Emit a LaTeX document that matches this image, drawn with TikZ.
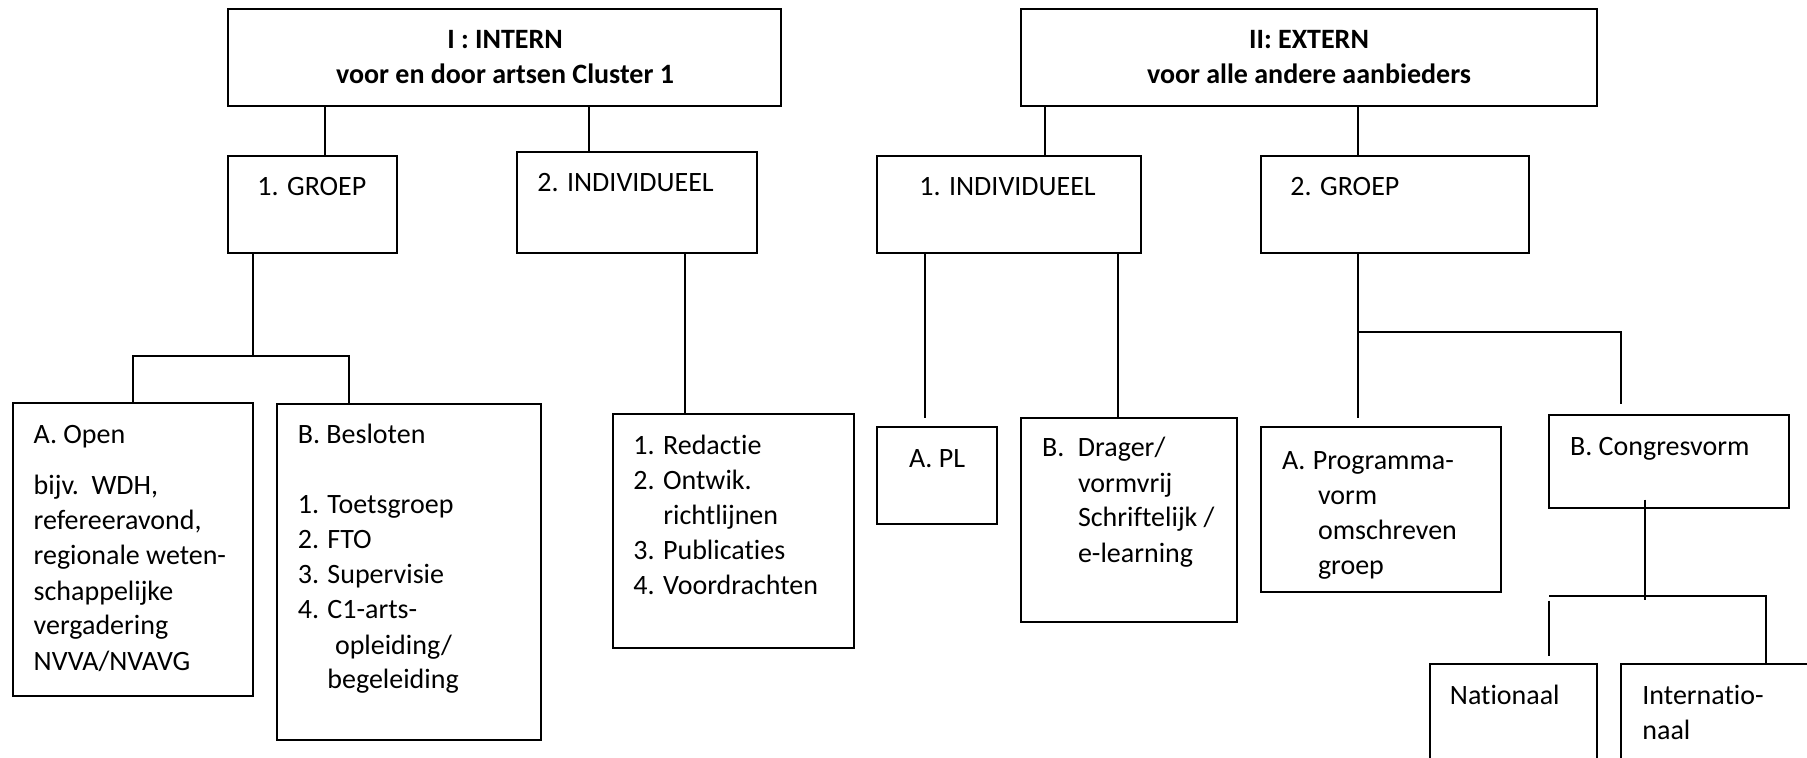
\documentclass[tikz,border=0pt]{standalone}
\usepackage{fontspec}
\setmainfont{Carlito}[Ligatures={NoCommon}]
\newcommand\mkbox[5]{\node[bx, minimum width={(#4-#2)*0.5pt}, minimum height={(#5-#3)*0.5pt}] (#1) at ({(#2+#4)/2},{(#3+#5)/2}) {};}
\newcommand\txlines[1]{\begin{tabular}[t]{@{}l@{}}#1\end{tabular}}
\begin{document}
\begin{tikzpicture}[x=0.5pt,y=-0.5pt,
  bx/.style={draw, line width=1pt, inner sep=0pt, outer sep=0pt},
  ln/.style={line width=1pt},
  tx/.style={anchor=base west, inner sep=0pt, font=\fontsize{14}{17.5}\selectfont},
  ttl/.style={anchor=base, inner sep=0pt, font=\fontsize{14}{17.5}\selectfont\bfseries}]
\useasboundingbox (0,0) rectangle (1807,758);
\clip (0,0) rectangle (1807,758);
% boxes
\mkbox{gI}{228}{9}{781}{106}
\mkbox{gII}{1021}{9}{1597}{106}
\mkbox{igroep}{228}{156}{397}{253}
\mkbox{iind}{517}{152}{757}{253}
\mkbox{eind}{877}{156}{1141}{253}
\mkbox{egroep}{1261}{156}{1529}{253}
\mkbox{open}{13}{403}{253}{696}
\mkbox{besl}{277}{404}{541}{740}
\mkbox{red}{613}{414}{854}{648}
\mkbox{pl}{877}{427}{997}{524}
\mkbox{drag}{1021}{418}{1237}{622}
\mkbox{prog}{1261}{427}{1501}{592}
\mkbox{cong}{1549}{415}{1789}{508}
\mkbox{nat}{1430}{664}{1597}{800}
\mkbox{int}{1621}{664}{1850}{800}
% texts
\node[ttl] (tI1) at (505,49) {I : INTERN};
\node[ttl] (tI2) at (505,84) {voor en door artsen Cluster 1};
\node[ttl] (tII1) at (1309,49) {II: EXTERN};
\node[ttl] (tII2) at (1309,84) {voor alle andere aanbieders};
\node[tx] (t1) at (257,196) {1. GROEP};
\node[tx] (t2) at (537,192) {2. INDIVIDUEEL};
\node[tx] (t3) at (919,196) {1. INDIVIDUEEL};
\node[tx] (t4) at (1290,196) {2. GROEP};
\node[tx] (topen) at (33.3,444) {\txlines{A. Open\\[8pt]
  bijv.\ \ WDH,\\ refereeravond,\\ regionale weten-\\ schappelijke\\ vergadering\\ NVVA/NVAVG}};
\node[tx] (tbesl) at (297.4,444) {\txlines{B. Besloten\\ \\ 1. Toetsgroep\\ 2. FTO\\ 3. Supervisie\\ 4. C1-arts-\\
  \hspace*{18.6pt}opleiding/\\ \hspace*{14.8pt}begeleiding}};
\node[tx] (tred) at (633,454) {\txlines{1. Redactie\\ 2. Ontwik.\\ \hspace*{15pt}richtlijnen\\ 3. Publicaties\\ 4. Voordrachten}};
\node[tx] (tpl) at (908.7,467) {A. PL};
\node[tx] (tdrag) at (1041.7,457) {\txlines{\makebox[17.95pt][l]{B.}Drager/\\ \hspace*{17.95pt}vormvrij\\
  \hspace*{17.95pt}Schriftelijk /\\ \hspace*{17.95pt}e-learning}};
\node[tx] (tprog) at (1281.7,469) {\txlines{\makebox[15.35pt][l]{A.}Programma-\\ \hspace*{17.95pt}vorm\\
  \hspace*{17.95pt}omschreven\\ \hspace*{17.95pt}groep}};
\node[tx] (tcong) at (1569.7,455) {B. Congresvorm};
\node[tx] (tnat) at (1449.5,704) {Nationaal};
\node[tx] (tint) at (1642,704) {\txlines{Internatio-\\ naal}};
% connectors
\draw[ln] (gI.south -| 325,0) -- (igroep.north -| 325,0);
\draw[ln] (gI.south -| 589,0) -- (iind.north -| 589,0);
\draw[ln] (gII.south -| 1045,0) -- (eind.north -| 1045,0);
\draw[ln] (gII.south -| 1358,0) -- (egroep.north -| 1358,0);
\coordinate (j1) at (253,356);
\draw[ln] (igroep.south -| j1) -- (j1);
\coordinate (j1b) at (349,356);
\draw[ln] (open.north) |- (j1b) -- (besl.north -| j1b);
\draw[ln] (iind.south -| 685,0) -- (red.north -| 685,0);
\draw[ln, shorten >=4.5pt] (eind.south -| 925,0) -- (pl.north -| 925,0);
\draw[ln] (eind.south -| 1118,0) -- (drag.north -| 1118,0);
\coordinate (j2) at (1358,332);
\draw[ln, shorten >=4.5pt] (egroep.south -| j2) -- (prog.north -| j2);
\draw[ln, shorten >=5.5pt] (j2) -| (cong.north -| 1621,0);
\coordinate (j3) at (1645,596);
\draw[ln] ([yshift=4.2pt]cong.south -| j3) -- ([yshift=-2pt]j3);
\coordinate (j4) at (1549,596);
\draw[ln] (j4) -| (int.north -| 1766,0);
\draw[ln] ([yshift=-2.35pt]j4) -- ([yshift=4.15pt]nat.north -| j4);
\end{tikzpicture}
\end{document}
